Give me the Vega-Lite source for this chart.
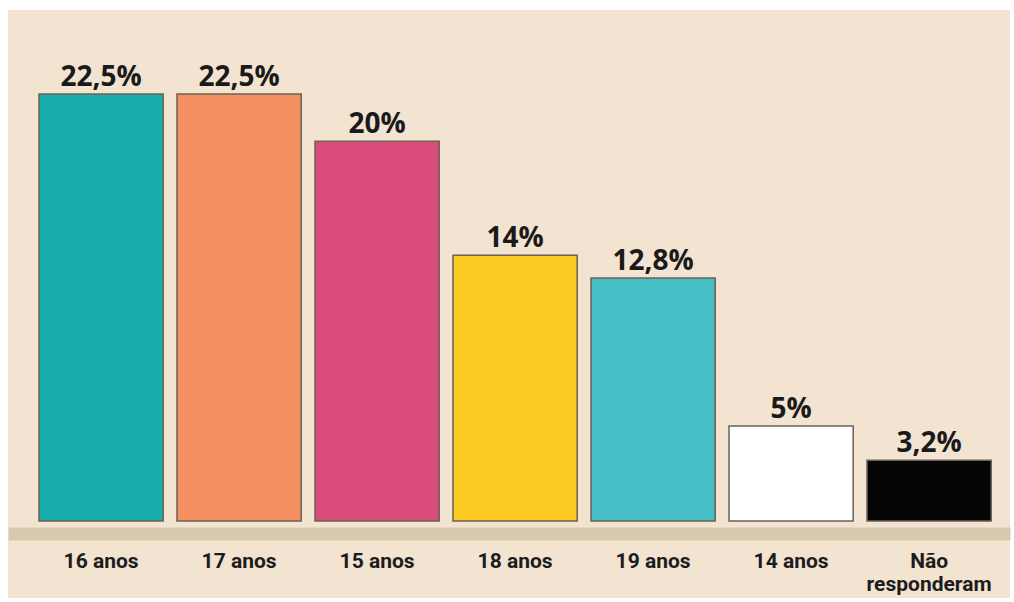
{
  "$schema": "https://vega.github.io/schema/vega-lite/v6.json",
  "width": 1002,
  "height": 588,
  "autosize": {"type": "none"},
  "padding": {"left": 8, "top": 10, "right": 4, "bottom": 4},
  "background": "#ffffff",
  "config": {"view": {"fill": "#f3e4d2", "stroke": null}},
  "data": {
    "values": [
      {"faixa": "16 anos", "pct": 22.5, "rotulo": "22,5%"},
      {"faixa": "17 anos", "pct": 22.5, "rotulo": "22,5%"},
      {"faixa": "15 anos", "pct": 20, "rotulo": "20%"},
      {"faixa": "18 anos", "pct": 14, "rotulo": "14%"},
      {"faixa": "19 anos", "pct": 12.8, "rotulo": "12,8%"},
      {"faixa": "14 anos", "pct": 5, "rotulo": "5%"},
      {"faixa": "Não responderam", "pct": 3.2, "rotulo": "3,2%"}
    ]
  },
  "encoding": {
    "x": {
      "field": "faixa",
      "type": "nominal",
      "sort": null,
      "scale": {"paddingInner": 0.1, "paddingOuter": 0.1804, "align": 0.6225, "round": false},
      "axis": {
        "title": null,
        "orient": "bottom",
        "offset": -64.5,
        "domainColor": "#d9c9ae",
        "domainWidth": 13,
        "ticks": false,
        "tickSize": 0,
        "labelPadding": 17,
        "labelAngle": 0,
        "labelFont": "Roboto",
        "labelFontSize": 21,
        "labelFontWeight": "bold",
        "labelColor": "#1c1c1c",
        "labelBaseline": "top",
        "labelLineHeight": 23,
        "labelLimit": 0,
        "labelExpr": "datum.value == 'Não responderam' ? ['Não', 'responderam'] : datum.value"
      }
    }
  },
  "layer": [
    {
      "mark": {"type": "bar", "stroke": "#6b6155", "strokeWidth": 1.5},
      "encoding": {
        "y": {
          "field": "pct",
          "type": "quantitative",
          "scale": {"domain": [-4.057, 26.92], "nice": false, "zero": false},
          "axis": null
        },
        "y2": {"datum": 0},
        "color": {
          "field": "faixa",
          "type": "nominal",
          "sort": null,
          "scale": {
            "domain": ["16 anos", "17 anos", "15 anos", "18 anos", "19 anos", "14 anos", "Não responderam"],
            "range": ["#19adab", "#f59063", "#d94b78", "#fccb22", "#45bec6", "#ffffff", "#050505"]
          },
          "legend": null
        }
      }
    },
    {
      "mark": {
        "type": "text",
        "dy": -8,
        "baseline": "alphabetic",
        "font": "Open Sans",
        "fontSize": 28,
        "fontWeight": "bold",
        "color": "#1a1a1a"
      },
      "encoding": {
        "y": {"field": "pct", "type": "quantitative"},
        "text": {"field": "rotulo"}
      }
    }
  ]
}
